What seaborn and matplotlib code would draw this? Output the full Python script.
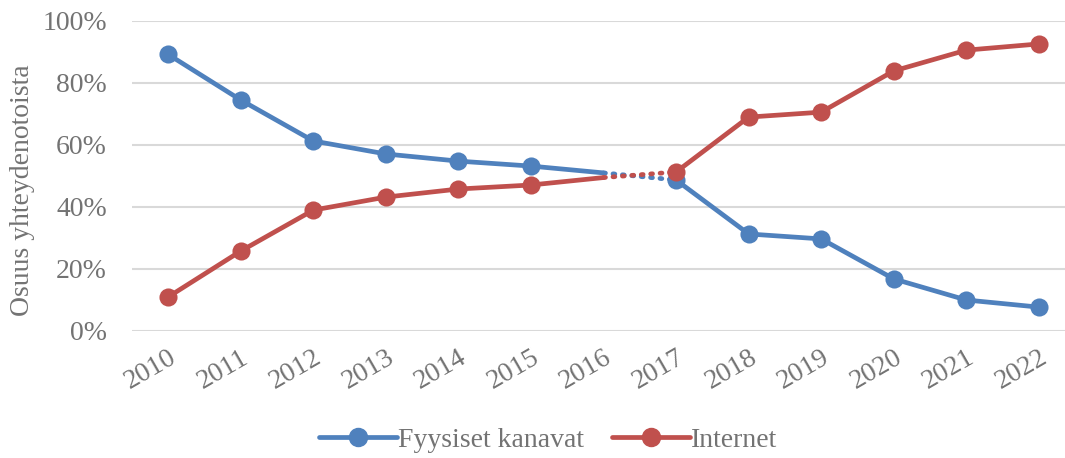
import numpy as np
import pandas as pd
import matplotlib.pyplot as plt
import seaborn as sns

years = [2010, 2011, 2012, 2013, 2014, 2015, 2016, 2017, 2018, 2019, 2020, 2021, 2022]
fyysiset = [89.2, 74.5, 61.3, 57.1, 54.8, 53.2, 51.0, 48.7, 31.3, 29.7, 16.8, 10.0, 7.7]
internet = [11.0, 25.8, 39.0, 43.2, 45.8, 47.1, 49.5, 51.3, 69.0, 70.6, 83.9, 90.6, 92.6]
series_names = ['Fyysiset kanavat', 'Internet']
colors = ['#4f81bd', '#c0504d']
text_color = '#737373'

sns.set_style('white')
plt.rcParams['font.family'] = ['Liberation Serif', 'DejaVu Serif']

df = pd.DataFrame({'year': years, 'Fyysiset kanavat': fyysiset, 'Internet': internet})
df['pos'] = np.arange(len(years))
long = df.melt(id_vars=['year', 'pos'], value_vars=series_names,
               var_name='series', value_name='share')

fig = plt.figure(figsize=(10.65, 4.58), dpi=100)
ax = fig.add_axes([132 / 1065, 1 - 331 / 458, (1065 - 132) / 1065, 310 / 458])

for name, col in zip(series_names, colors):
    d = long[long['series'] == name]
    first = d[d['year'] <= 2016]
    second = d[d['year'] >= 2017]
    gap = d[(d['year'] >= 2016) & (d['year'] <= 2017)]
    sns.lineplot(data=first, x='pos', y='share', color=col, lw=3.4, ax=ax,
                 solid_capstyle='round', zorder=3)
    sns.lineplot(data=second, x='pos', y='share', color=col, lw=3.4, ax=ax,
                 solid_capstyle='round', zorder=3)
    sns.lineplot(data=gap, x='pos', y='share', color=col, lw=3.4, ax=ax,
                 linestyle=(0, (0.4, 1.6)), dash_capstyle='round', zorder=3)
    marked = d[d['year'] != 2016]
    sns.scatterplot(data=marked, x='pos', y='share', color=col, s=170, ax=ax,
                    edgecolor=col, linewidth=0, zorder=4)

ax.set_xlim(-0.5, 12.36)
ax.set_ylim(0, 100)
ax.set_yticks(range(0, 101, 20))
ax.set_yticklabels([f'{v}%' for v in range(0, 101, 20)])
ax.set_xticks(range(len(years)))
ax.set_xticklabels([str(y) for y in years], rotation=30, ha='right',
                   rotation_mode='anchor')
ax.tick_params(axis='both', labelsize=20, colors=text_color, length=0)
ax.tick_params(axis='x', pad=10)
ax.tick_params(axis='y', pad=18)
ax.grid(axis='y', color='#d9d9d9', lw=1.5)
ax.set_axisbelow(True)
for sp in ax.spines.values():
    sp.set_visible(False)
ax.set_xlabel('')
ax.set_ylabel('Osuus yhteydenotoista', fontsize=20, color=text_color)
ax.yaxis.set_label_coords(-97 / 933, (331 - 190) / 310)

handles = [plt.Line2D([], [], color=c, lw=3.4, marker='o', markersize=13,
                      solid_capstyle='round') for c in colors]
fig.legend(handles, series_names, loc='center', bbox_to_anchor=(0.515, 1 - 440 / 458),
           ncol=2, frameon=False, fontsize=20, labelcolor=text_color,
           handlelength=2.8, handletextpad=0.05, columnspacing=1.0)

plt.savefig('out.png', dpi=100)
